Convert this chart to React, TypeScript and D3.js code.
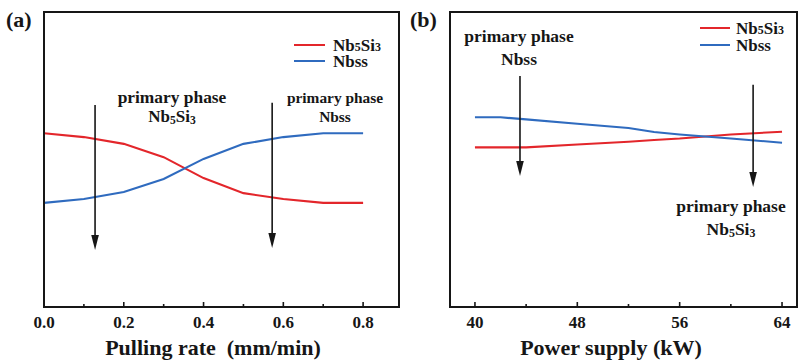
import * as d3 from 'd3';

// panel (a): pulling rate
const rateX = [0, 0.1, 0.2, 0.3, 0.4, 0.5, 0.6, 0.7, 0.8];
const rateNb5Si3 = [58.9, 57.6, 55.3, 50.8, 43.7, 38.6, 36.6, 35.3, 35.3];
const rateNbss = [35.3, 36.6, 39.0, 43.4, 50.2, 55.3, 57.6, 58.9, 58.9];
const rateTicks = [0, 0.2, 0.4, 0.6, 0.8];
const rateMinor = [0.1, 0.3, 0.5, 0.7];

// panel (b): power supply
const powerX = [40, 42, 44, 48, 52, 54, 56, 60, 64];
const powerNb5Si3 = [54.1, 54.1, 54.1, 55.1, 56.0, 56.6, 57.1, 58.5, 59.4];
const powerNbss = [64.3, 64.3, 63.6, 62.1, 60.7, 59.3, 58.5, 57.1, 55.7];
const powerTicks = [40, 48, 56, 64];
const powerMinor = [44, 52, 60];

const RED = '#e3262b';
const BLUE = '#2f6bbf';
const INK = '#161616';
const FONT = '"Liberation Serif", "Times New Roman", serif';

const y = d3.scaleLinear().domain([0, 100]).range([307, 12]);
const xa = d3.scaleLinear().domain([0, 0.89]).range([44, 399]);
const xb = d3.scaleLinear().domain([38.05, 65.17]).range([450, 797]);

function Nb5Si3({ x, yy, size, anchor = 'start' }: { x: number; yy: number; size: number; anchor?: string }) {
  const s = size * 0.68;
  const d = size * 0.14;
  return (
    <text x={x} y={yy} fontSize={size} textAnchor={anchor}>
      Nb<tspan fontSize={s} dy={d}>5</tspan><tspan dy={-d}>Si</tspan><tspan fontSize={s} dy={d}>3</tspan>
    </text>
  );
}

// legend writes the digits small but on the baseline
function LegendSi({ x, yy, size }: { x: number; yy: number; size: number }) {
  return (
    <text x={x} y={yy} fontSize={size}>
      Nb<tspan fontSize={size * 0.7}>5</tspan>Si<tspan fontSize={size * 0.7}>3</tspan>
    </text>
  );
}

function Arrow({ x, y1, y2 }: { x: number; y1: number; y2: number }) {
  return (
    <g>
      <line x1={x} x2={x} y1={y1} y2={y2 - 10} stroke={INK} strokeWidth={1.6} />
      <path d={`M${x - 3.8},${y2 - 15}L${x + 3.8},${y2 - 15}L${x},${y2}Z`} fill={INK} />
    </g>
  );
}

function Panel({
  xs, xv, red, blue, ticks, minor, fmt,
}: {
  xs: d3.ScaleLinear<number, number>;
  xv: number[];
  red: number[];
  blue: number[];
  ticks: number[];
  minor: number[];
  fmt: (v: number) => string;
}) {
  const [x0, x1] = xs.range();
  const line = d3.line<number>().x((_, i) => xs(xv[i])).y((d) => y(d));
  return (
    <g>
      <path d={line(red) ?? ''} fill="none" stroke={RED} strokeWidth={2.1} />
      <path d={line(blue) ?? ''} fill="none" stroke={BLUE} strokeWidth={2.1} />
      <rect x={x0} y={y.range()[1]} width={x1 - x0} height={y.range()[0] - y.range()[1]} fill="none" stroke={INK} strokeWidth={2} />
      {ticks.map((t) => (
        <g key={t}>
          <line x1={xs(t)} x2={xs(t)} y1={y(0)} y2={y(0) - 5} stroke={INK} strokeWidth={1.6} />
          <text x={xs(t)} y={328} fontSize={17} textAnchor="middle">{fmt(t)}</text>
        </g>
      ))}
      {minor.map((t) => (
        <line key={t} x1={xs(t)} x2={xs(t)} y1={y(0)} y2={y(0) - 3} stroke={INK} strokeWidth={1.6} />
      ))}
    </g>
  );
}

export default function App() {
  return (
    <svg
      width={798}
      height={362}
      style={{ position: 'absolute', left: 0, top: 0, background: '#fff', fontFamily: FONT, fontWeight: 700 }}
      fill={INK}
    >
      <rect width={798} height={362} fill="#fff" />
      <Panel xs={xa} xv={rateX} red={rateNb5Si3} blue={rateNbss} ticks={rateTicks} minor={rateMinor} fmt={d3.format('.1f')} />
      <Panel xs={xb} xv={powerX} red={powerNb5Si3} blue={powerNbss} ticks={powerTicks} minor={powerMinor} fmt={d3.format('d')} />

      <text x={6} y={27} fontSize={22}>(a)</text>
      <text x={410} y={27} fontSize={22}>(b)</text>

      {/* legend (a) */}
      <line x1={294} x2={325} y1={45} y2={45} stroke={RED} strokeWidth={2} />
      <line x1={294} x2={325} y1={61} y2={61} stroke={BLUE} strokeWidth={2} />
      <LegendSi x={333} yy={50.5} size={17} />
      <text x={333} y={66.5} fontSize={17}>Nbss</text>

      {/* legend (b) */}
      <line x1={700} x2={730} y1={28} y2={28} stroke={RED} strokeWidth={2} />
      <line x1={700} x2={730} y1={45} y2={45} stroke={BLUE} strokeWidth={2} />
      <LegendSi x={736} yy={33.5} size={17} />
      <text x={736} y={50.5} fontSize={17}>Nbss</text>

      {/* annotations (a) */}
      <Arrow x={xa(0.128)} y1={y(68.5)} y2={y(19.3)} />
      <Arrow x={xa(0.572)} y1={y(69.2)} y2={y(20)} />
      <text x={172} y={103} fontSize={17.4} textAnchor="middle">primary phase</text>
      <Nb5Si3 x={172} yy={122} size={17} anchor="middle" />
      <text x={335} y={103} fontSize={15.4} textAnchor="middle">primary phase</text>
      <text x={335} y={122} fontSize={15.4} textAnchor="middle">Nbss</text>

      {/* annotations (b) */}
      <Arrow x={xb(43.52)} y1={y(78.3)} y2={y(44.4)} />
      <Arrow x={xb(61.74)} y1={y(75.3)} y2={y(40.7)} />
      <text x={519} y={42} fontSize={17.5} textAnchor="middle">primary phase</text>
      <text x={519} y={65} fontSize={17.5} textAnchor="middle">Nbss</text>
      <text x={731} y={212} fontSize={17.5} textAnchor="middle">primary phase</text>
      <Nb5Si3 x={731} yy={235} size={17.5} anchor="middle" />

      <text x={213} y={355} fontSize={22} textAnchor="middle">{'Pulling rate\u00a0 (mm/min)'}</text>
      <text x={611} y={355} fontSize={22} textAnchor="middle">Power supply (kW)</text>
    </svg>
  );
}
